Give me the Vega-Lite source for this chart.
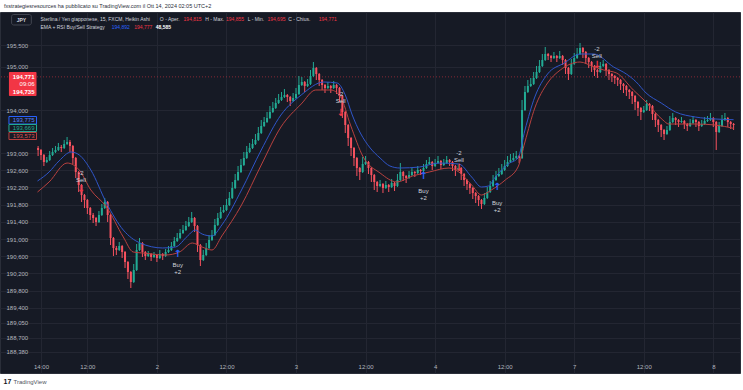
{
"$schema":"https://vega.github.io/schema/vega-lite/v6.json",
"width":740,"height":361,
"autosize":{"type":"none"},
"padding":{"left":0,"top":12,"right":3,"bottom":17},
"background":"#ffffff",
"title":{"text":"fxstrategiesresources ha pubblicato su TradingView.com il Ott 14, 2024 02:05 UTC+2","anchor":"start","frame":"group","fontSize":5.5,"fontWeight":"normal","color":"#2a2e39","dx":4,"offset":3,"font":"Liberation Sans"},
"config":{"view":{"fill":"#161a25","stroke":"#2a2e39"},"font":"Liberation Sans","text":{"font":"Liberation Sans"},"axis":{"labelOverlap":false,"labelFlush":false}},
"data":{"values":[{}]},
"datasets":{
"c":[
{"t":3.5,"o":193.116,"h":193.163,"l":192.93,"c":193.07},
{"t":4,"o":193.07,"h":193.093,"l":192.837,"c":192.954},
{"t":4.5,"o":192.954,"h":192.977,"l":192.698,"c":192.791},
{"t":5,"o":192.791,"h":192.907,"l":192.767,"c":192.837},
{"t":5.5,"o":192.837,"h":193.047,"l":192.814,"c":192.954},
{"t":6,"o":192.954,"h":193.116,"l":192.93,"c":193.023},
{"t":6.5,"o":193.023,"h":193.163,"l":193,"c":193.07},
{"t":7,"o":193.07,"h":193.233,"l":193.047,"c":193.14},
{"t":7.5,"o":193.14,"h":193.186,"l":193.023,"c":193.116},
{"t":8,"o":193.116,"h":193.302,"l":193.093,"c":193.209},
{"t":8.5,"o":193.209,"h":193.372,"l":193.186,"c":193.256},
{"t":9,"o":193.256,"h":193.302,"l":193.023,"c":193.163},
{"t":9.5,"o":193.163,"h":193.186,"l":192.744,"c":192.884},
{"t":10,"o":192.884,"h":192.907,"l":192.419,"c":192.558},
{"t":10.5,"o":192.558,"h":192.581,"l":192.093,"c":192.256},
{"t":11,"o":192.256,"h":192.279,"l":191.86,"c":192.023},
{"t":11.5,"o":192.023,"h":192.047,"l":191.721,"c":191.907},
{"t":12,"o":191.907,"h":191.93,"l":191.581,"c":191.721},
{"t":12.5,"o":191.721,"h":191.744,"l":191.442,"c":191.558},
{"t":13,"o":191.558,"h":191.605,"l":191.372,"c":191.488},
{"t":13.5,"o":191.488,"h":191.512,"l":191.302,"c":191.395},
{"t":14,"o":191.395,"h":191.651,"l":191.372,"c":191.558},
{"t":14.5,"o":191.558,"h":191.814,"l":191.535,"c":191.721},
{"t":15,"o":191.721,"h":191.954,"l":191.698,"c":191.86},
{"t":15.5,"o":191.86,"h":191.884,"l":191.395,"c":191.558},
{"t":16,"o":191.558,"h":191.581,"l":190.86,"c":191.023},
{"t":16.5,"o":191.023,"h":191.047,"l":190.605,"c":190.791},
{"t":17,"o":190.791,"h":190.837,"l":190.628,"c":190.744},
{"t":17.5,"o":190.744,"h":190.93,"l":190.721,"c":190.837},
{"t":18,"o":190.837,"h":190.86,"l":190.558,"c":190.698},
{"t":18.5,"o":190.698,"h":190.721,"l":190.326,"c":190.465},
{"t":19,"o":190.465,"h":190.488,"l":190.07,"c":190.233},
{"t":19.5,"o":190.233,"h":190.256,"l":189.86,"c":190},
{"t":20,"o":190,"h":190.419,"l":189.977,"c":190.279},
{"t":20.5,"o":190.279,"h":190.884,"l":190.256,"c":190.744},
{"t":21,"o":190.744,"h":191.023,"l":190.721,"c":190.907},
{"t":21.5,"o":190.907,"h":190.93,"l":190.581,"c":190.698},
{"t":22,"o":190.698,"h":190.721,"l":190.512,"c":190.605},
{"t":22.5,"o":190.605,"h":190.721,"l":190.581,"c":190.651},
{"t":23,"o":190.651,"h":190.674,"l":190.488,"c":190.581},
{"t":23.5,"o":190.581,"h":190.698,"l":190.558,"c":190.628},
{"t":24,"o":190.628,"h":190.651,"l":190.465,"c":190.558},
{"t":24.5,"o":190.558,"h":190.744,"l":190.535,"c":190.651},
{"t":25,"o":190.651,"h":190.674,"l":190.512,"c":190.605},
{"t":25.5,"o":190.605,"h":190.767,"l":190.581,"c":190.698},
{"t":26,"o":190.698,"h":190.837,"l":190.674,"c":190.744},
{"t":26.5,"o":190.744,"h":190.93,"l":190.721,"c":190.837},
{"t":27,"o":190.837,"h":191.047,"l":190.814,"c":190.954},
{"t":27.5,"o":190.954,"h":191.14,"l":190.93,"c":191.023},
{"t":28,"o":191.023,"h":191.233,"l":191,"c":191.14},
{"t":28.5,"o":191.14,"h":191.326,"l":191.116,"c":191.209},
{"t":29,"o":191.209,"h":191.419,"l":191.186,"c":191.302},
{"t":29.5,"o":191.302,"h":191.512,"l":191.279,"c":191.395},
{"t":30,"o":191.395,"h":191.628,"l":191.372,"c":191.488},
{"t":30.5,"o":191.488,"h":191.512,"l":191.163,"c":191.302},
{"t":31,"o":191.302,"h":191.326,"l":190.698,"c":190.86},
{"t":31.5,"o":190.86,"h":190.884,"l":190.372,"c":190.512},
{"t":32,"o":190.512,"h":190.744,"l":190.488,"c":190.628},
{"t":32.5,"o":190.628,"h":190.907,"l":190.605,"c":190.791},
{"t":33,"o":190.791,"h":191.093,"l":190.767,"c":190.977},
{"t":33.5,"o":190.977,"h":191.209,"l":190.954,"c":191.093},
{"t":34,"o":191.093,"h":191.465,"l":191.07,"c":191.326},
{"t":34.5,"o":191.326,"h":191.605,"l":191.302,"c":191.488},
{"t":35,"o":191.488,"h":191.744,"l":191.465,"c":191.628},
{"t":35.5,"o":191.628,"h":191.791,"l":191.605,"c":191.674},
{"t":36,"o":191.674,"h":191.93,"l":191.651,"c":191.791},
{"t":36.5,"o":191.791,"h":192.093,"l":191.767,"c":191.954},
{"t":37,"o":191.954,"h":192.326,"l":191.93,"c":192.186},
{"t":37.5,"o":192.186,"h":192.512,"l":192.163,"c":192.372},
{"t":38,"o":192.372,"h":192.698,"l":192.349,"c":192.558},
{"t":38.5,"o":192.558,"h":192.86,"l":192.535,"c":192.721},
{"t":39,"o":192.721,"h":193.023,"l":192.698,"c":192.884},
{"t":39.5,"o":192.884,"h":193.163,"l":192.86,"c":193.023},
{"t":40,"o":193.023,"h":193.233,"l":193,"c":193.116},
{"t":40.5,"o":193.116,"h":193.326,"l":193.093,"c":193.209},
{"t":41,"o":193.209,"h":193.442,"l":193.186,"c":193.302},
{"t":41.5,"o":193.302,"h":193.605,"l":193.279,"c":193.465},
{"t":42,"o":193.465,"h":193.767,"l":193.442,"c":193.628},
{"t":42.5,"o":193.628,"h":193.837,"l":193.605,"c":193.721},
{"t":43,"o":193.721,"h":193.954,"l":193.698,"c":193.814},
{"t":43.5,"o":193.814,"h":194.093,"l":193.791,"c":193.954},
{"t":44,"o":193.954,"h":194.186,"l":193.93,"c":194.047},
{"t":44.5,"o":194.047,"h":194.279,"l":194.023,"c":194.163},
{"t":45,"o":194.163,"h":194.372,"l":194.14,"c":194.233},
{"t":45.5,"o":194.233,"h":194.419,"l":194.209,"c":194.302},
{"t":46,"o":194.302,"h":194.488,"l":194.279,"c":194.349},
{"t":46.5,"o":194.349,"h":194.372,"l":194.186,"c":194.302},
{"t":47,"o":194.302,"h":194.326,"l":194.093,"c":194.209},
{"t":47.5,"o":194.209,"h":194.395,"l":194.186,"c":194.279},
{"t":48,"o":194.279,"h":194.512,"l":194.256,"c":194.372},
{"t":48.5,"o":194.372,"h":194.791,"l":194.349,"c":194.581},
{"t":49,"o":194.581,"h":194.767,"l":194.558,"c":194.651},
{"t":49.5,"o":194.651,"h":194.674,"l":194.419,"c":194.558},
{"t":50,"o":194.558,"h":194.721,"l":194.535,"c":194.605},
{"t":50.5,"o":194.605,"h":194.93,"l":194.581,"c":194.791},
{"t":51,"o":194.791,"h":195.116,"l":194.767,"c":194.977},
{"t":51.5,"o":194.977,"h":195,"l":194.698,"c":194.837},
{"t":52,"o":194.837,"h":194.86,"l":194.558,"c":194.698},
{"t":52.5,"o":194.698,"h":194.721,"l":194.465,"c":194.581},
{"t":53,"o":194.581,"h":194.605,"l":194.395,"c":194.512},
{"t":53.5,"o":194.512,"h":194.651,"l":194.488,"c":194.558},
{"t":54,"o":194.558,"h":194.581,"l":194.395,"c":194.512},
{"t":54.5,"o":194.512,"h":194.674,"l":194.488,"c":194.581},
{"t":55,"o":194.581,"h":194.605,"l":194.372,"c":194.512},
{"t":55.5,"o":194.512,"h":194.535,"l":194.186,"c":194.326},
{"t":56,"o":194.326,"h":194.349,"l":193.814,"c":193.954},
{"t":56.5,"o":193.954,"h":193.977,"l":193.465,"c":193.651},
{"t":57,"o":193.651,"h":193.674,"l":193.163,"c":193.349},
{"t":57.5,"o":193.349,"h":193.372,"l":192.93,"c":193.116},
{"t":58,"o":193.116,"h":193.14,"l":192.698,"c":192.884},
{"t":58.5,"o":192.884,"h":192.907,"l":192.465,"c":192.651},
{"t":59,"o":192.651,"h":192.674,"l":192.372,"c":192.558},
{"t":59.5,"o":192.558,"h":192.907,"l":192.535,"c":192.744},
{"t":60,"o":192.744,"h":192.93,"l":192.721,"c":192.791},
{"t":60.5,"o":192.791,"h":192.814,"l":192.512,"c":192.651},
{"t":61,"o":192.651,"h":192.674,"l":192.326,"c":192.488},
{"t":61.5,"o":192.488,"h":192.512,"l":192.14,"c":192.326},
{"t":62,"o":192.326,"h":192.349,"l":192.093,"c":192.233},
{"t":62.5,"o":192.233,"h":192.372,"l":192.209,"c":192.279},
{"t":63,"o":192.279,"h":192.302,"l":192.07,"c":192.186},
{"t":63.5,"o":192.186,"h":192.349,"l":192.163,"c":192.256},
{"t":64,"o":192.256,"h":192.279,"l":192.093,"c":192.209},
{"t":64.5,"o":192.209,"h":192.395,"l":192.186,"c":192.302},
{"t":65,"o":192.302,"h":192.326,"l":192.116,"c":192.233},
{"t":65.5,"o":192.233,"h":192.512,"l":192.209,"c":192.372},
{"t":66,"o":192.372,"h":192.767,"l":192.349,"c":192.558},
{"t":66.5,"o":192.558,"h":192.581,"l":192.349,"c":192.465},
{"t":67,"o":192.465,"h":192.488,"l":192.302,"c":192.419},
{"t":67.5,"o":192.419,"h":192.581,"l":192.395,"c":192.488},
{"t":68,"o":192.488,"h":192.651,"l":192.465,"c":192.558},
{"t":68.5,"o":192.558,"h":192.581,"l":192.442,"c":192.535},
{"t":69,"o":192.535,"h":192.698,"l":192.512,"c":192.605},
{"t":69.5,"o":192.605,"h":192.628,"l":192.488,"c":192.581},
{"t":70,"o":192.581,"h":192.744,"l":192.558,"c":192.651},
{"t":70.5,"o":192.651,"h":192.837,"l":192.628,"c":192.744},
{"t":71,"o":192.744,"h":192.907,"l":192.721,"c":192.791},
{"t":71.5,"o":192.791,"h":192.814,"l":192.605,"c":192.698},
{"t":72,"o":192.698,"h":192.86,"l":192.674,"c":192.767},
{"t":72.5,"o":192.767,"h":192.93,"l":192.744,"c":192.814},
{"t":73,"o":192.814,"h":192.837,"l":192.628,"c":192.721},
{"t":73.5,"o":192.721,"h":192.86,"l":192.698,"c":192.767},
{"t":74,"o":192.767,"h":192.93,"l":192.744,"c":192.837},
{"t":74.5,"o":192.837,"h":192.86,"l":192.698,"c":192.791},
{"t":75,"o":192.791,"h":192.814,"l":192.581,"c":192.698},
{"t":75.5,"o":192.698,"h":192.721,"l":192.465,"c":192.605},
{"t":76,"o":192.605,"h":192.744,"l":192.581,"c":192.651},
{"t":76.5,"o":192.651,"h":192.674,"l":192.372,"c":192.512},
{"t":77,"o":192.512,"h":192.535,"l":192.233,"c":192.372},
{"t":77.5,"o":192.372,"h":192.395,"l":192.14,"c":192.279},
{"t":78,"o":192.279,"h":192.302,"l":192.047,"c":192.186},
{"t":78.5,"o":192.186,"h":192.209,"l":191.93,"c":192.07},
{"t":79,"o":192.07,"h":192.093,"l":191.837,"c":192},
{"t":79.5,"o":192,"h":192.023,"l":191.767,"c":191.907},
{"t":80,"o":191.907,"h":191.93,"l":191.698,"c":191.814},
{"t":80.5,"o":191.814,"h":192.07,"l":191.791,"c":191.954},
{"t":81,"o":191.954,"h":192.209,"l":191.93,"c":192.093},
{"t":81.5,"o":192.093,"h":192.349,"l":192.07,"c":192.233},
{"t":82,"o":192.233,"h":192.488,"l":192.209,"c":192.372},
{"t":82.5,"o":192.372,"h":192.581,"l":192.349,"c":192.465},
{"t":83,"o":192.465,"h":192.651,"l":192.442,"c":192.512},
{"t":83.5,"o":192.512,"h":192.744,"l":192.488,"c":192.605},
{"t":84,"o":192.605,"h":192.837,"l":192.581,"c":192.698},
{"t":84.5,"o":192.698,"h":192.93,"l":192.674,"c":192.791},
{"t":85,"o":192.791,"h":192.977,"l":192.767,"c":192.837},
{"t":85.5,"o":192.837,"h":193,"l":192.814,"c":192.884},
{"t":86,"o":192.884,"h":193.047,"l":192.86,"c":192.93},
{"t":86.5,"o":192.93,"h":192.954,"l":192.767,"c":192.884},
{"t":87,"o":192.884,"h":194.233,"l":192.86,"c":194},
{"t":87.5,"o":194,"h":194.558,"l":193.977,"c":194.419},
{"t":88,"o":194.419,"h":194.698,"l":194.395,"c":194.558},
{"t":88.5,"o":194.558,"h":194.744,"l":194.535,"c":194.605},
{"t":89,"o":194.605,"h":194.884,"l":194.581,"c":194.744},
{"t":89.5,"o":194.744,"h":195.023,"l":194.721,"c":194.884},
{"t":90,"o":194.884,"h":195.163,"l":194.86,"c":195.023},
{"t":90.5,"o":195.023,"h":195.302,"l":195,"c":195.163},
{"t":91,"o":195.163,"h":195.465,"l":195.14,"c":195.302},
{"t":91.5,"o":195.302,"h":195.326,"l":195.163,"c":195.256},
{"t":92,"o":195.256,"h":195.279,"l":195.116,"c":195.209},
{"t":92.5,"o":195.209,"h":195.349,"l":195.186,"c":195.256},
{"t":93,"o":195.256,"h":195.279,"l":195.116,"c":195.209},
{"t":93.5,"o":195.209,"h":195.372,"l":195.186,"c":195.256},
{"t":94,"o":195.256,"h":195.279,"l":195.047,"c":195.163},
{"t":94.5,"o":195.163,"h":195.186,"l":194.837,"c":194.977},
{"t":95,"o":194.977,"h":195,"l":194.698,"c":194.837},
{"t":95.5,"o":194.837,"h":195.186,"l":194.814,"c":195.07},
{"t":96,"o":195.07,"h":195.326,"l":195.047,"c":195.209},
{"t":96.5,"o":195.209,"h":195.442,"l":195.186,"c":195.302},
{"t":97,"o":195.302,"h":195.558,"l":195.279,"c":195.442},
{"t":97.5,"o":195.442,"h":195.465,"l":195.209,"c":195.349},
{"t":98,"o":195.349,"h":195.372,"l":195.07,"c":195.209},
{"t":98.5,"o":195.209,"h":195.233,"l":194.977,"c":195.116},
{"t":99,"o":195.116,"h":195.14,"l":194.884,"c":195.023},
{"t":99.5,"o":195.023,"h":195.047,"l":194.791,"c":194.93},
{"t":100,"o":194.93,"h":194.954,"l":194.744,"c":194.884},
{"t":100.5,"o":194.884,"h":195.116,"l":194.86,"c":195.023},
{"t":101,"o":195.023,"h":195.163,"l":195,"c":195.07},
{"t":101.5,"o":195.07,"h":195.093,"l":194.791,"c":194.93},
{"t":102,"o":194.93,"h":194.954,"l":194.698,"c":194.837},
{"t":102.5,"o":194.837,"h":194.86,"l":194.651,"c":194.791},
{"t":103,"o":194.791,"h":194.814,"l":194.605,"c":194.744},
{"t":103.5,"o":194.744,"h":194.767,"l":194.558,"c":194.698},
{"t":104,"o":194.698,"h":194.721,"l":194.465,"c":194.605},
{"t":104.5,"o":194.605,"h":194.628,"l":194.395,"c":194.558},
{"t":105,"o":194.558,"h":194.581,"l":194.326,"c":194.465},
{"t":105.5,"o":194.465,"h":194.488,"l":194.256,"c":194.419},
{"t":106,"o":194.419,"h":194.442,"l":194.14,"c":194.326},
{"t":106.5,"o":194.326,"h":194.349,"l":194,"c":194.186},
{"t":107,"o":194.186,"h":194.209,"l":193.86,"c":194.047},
{"t":107.5,"o":194.047,"h":194.07,"l":193.767,"c":193.954},
{"t":108,"o":193.954,"h":194.093,"l":193.93,"c":194},
{"t":108.5,"o":194,"h":194.233,"l":193.977,"c":194.14},
{"t":109,"o":194.14,"h":194.163,"l":193.977,"c":194.093},
{"t":109.5,"o":194.093,"h":194.116,"l":193.767,"c":193.907},
{"t":110,"o":193.907,"h":193.93,"l":193.605,"c":193.767},
{"t":110.5,"o":193.767,"h":193.791,"l":193.488,"c":193.651},
{"t":111,"o":193.651,"h":193.674,"l":193.372,"c":193.535},
{"t":111.5,"o":193.535,"h":193.558,"l":193.302,"c":193.442},
{"t":112,"o":193.442,"h":193.628,"l":193.419,"c":193.535},
{"t":112.5,"o":193.535,"h":193.86,"l":193.512,"c":193.721},
{"t":113,"o":193.721,"h":193.93,"l":193.698,"c":193.814},
{"t":113.5,"o":193.814,"h":193.837,"l":193.651,"c":193.767},
{"t":114,"o":193.767,"h":193.791,"l":193.605,"c":193.721},
{"t":114.5,"o":193.721,"h":193.837,"l":193.698,"c":193.744},
{"t":115,"o":193.744,"h":193.767,"l":193.558,"c":193.674},
{"t":115.5,"o":193.674,"h":193.698,"l":193.512,"c":193.628},
{"t":116,"o":193.628,"h":193.791,"l":193.605,"c":193.698},
{"t":116.5,"o":193.698,"h":193.86,"l":193.674,"c":193.767},
{"t":117,"o":193.767,"h":193.791,"l":193.605,"c":193.721},
{"t":117.5,"o":193.721,"h":193.744,"l":193.512,"c":193.628},
{"t":118,"o":193.628,"h":193.767,"l":193.605,"c":193.674},
{"t":118.5,"o":193.674,"h":193.837,"l":193.651,"c":193.744},
{"t":119,"o":193.744,"h":193.86,"l":193.721,"c":193.767},
{"t":119.5,"o":193.767,"h":193.93,"l":193.744,"c":193.814},
{"t":120,"o":193.814,"h":193.837,"l":193.605,"c":193.721},
{"t":120.5,"o":193.721,"h":193.744,"l":193.07,"c":193.488},
{"t":121,"o":193.488,"h":193.721,"l":193.465,"c":193.628},
{"t":121.5,"o":193.628,"h":193.884,"l":193.605,"c":193.767},
{"t":122,"o":193.767,"h":193.93,"l":193.744,"c":193.814},
{"t":122.5,"o":193.814,"h":193.837,"l":193.605,"c":193.721},
{"t":123,"o":193.721,"h":193.744,"l":193.558,"c":193.674},
{"t":123.5,"o":193.674,"h":193.698,"l":193.535,"c":193.651}
],
"eb":[{"t":3.4,"v":192.349},{"t":5.4,"v":192.558},{"t":7.1,"v":192.814},{"t":9.2,"v":193.023},{"t":10.6,"v":192.954},{"t":12.6,"v":192.605},{"t":15.3,"v":191.837},{"t":18.2,"v":191.209},{"t":21.1,"v":190.907},{"t":25,"v":190.791},{"t":27.2,"v":190.814},{"t":29.3,"v":191.07},{"t":30.6,"v":191.209},{"t":31.8,"v":191.116},{"t":33.5,"v":191.07},{"t":35.2,"v":191.326},{"t":38.6,"v":192.14},{"t":42,"v":193.07},{"t":45.4,"v":193.884},{"t":48.9,"v":194.349},{"t":52.8,"v":194.651},{"t":55.1,"v":194.628},{"t":56.5,"v":194.349},{"t":57.7,"v":193.884},{"t":59.1,"v":193.465},{"t":60.8,"v":193.116},{"t":62.5,"v":192.884},{"t":64.2,"v":192.698},{"t":65.9,"v":192.651},{"t":69.3,"v":192.674},{"t":72.7,"v":192.767},{"t":76.1,"v":192.744},{"t":78.3,"v":192.442},{"t":80,"v":192.209},{"t":81.2,"v":192.233},{"t":82.4,"v":192.442},{"t":84.6,"v":192.744},{"t":86.3,"v":192.884},{"t":87.5,"v":193.535},{"t":89.2,"v":194.302},{"t":91.4,"v":194.837},{"t":94.3,"v":195.093},{"t":97,"v":195.302},{"t":99.4,"v":195.302},{"t":102.8,"v":195},{"t":105,"v":194.837},{"t":106.7,"v":194.651},{"t":108.4,"v":194.395},{"t":111,"v":194.163},{"t":113.5,"v":193.954},{"t":116.9,"v":193.837},{"t":120.3,"v":193.791},{"t":123.5,"v":193.775}],
"er":[{"t":3.4,"v":192.093},{"t":5.4,"v":192.326},{"t":8.5,"v":192.767},{"t":10.6,"v":192.605},{"t":12.6,"v":192.14},{"t":15.3,"v":191.744},{"t":18.2,"v":191.047},{"t":19.9,"v":190.698},{"t":21.6,"v":190.674},{"t":25.5,"v":190.628},{"t":27.9,"v":190.698},{"t":30.1,"v":190.907},{"t":31.8,"v":190.814},{"t":33.5,"v":190.744},{"t":35.2,"v":191.07},{"t":38.6,"v":191.791},{"t":42,"v":192.721},{"t":45.4,"v":193.605},{"t":48.9,"v":194.14},{"t":51.4,"v":194.465},{"t":54,"v":194.465},{"t":55.7,"v":194.302},{"t":57.4,"v":193.651},{"t":59.6,"v":192.907},{"t":62.5,"v":192.535},{"t":65.4,"v":192.326},{"t":68.1,"v":192.465},{"t":71,"v":192.558},{"t":74.4,"v":192.651},{"t":76.1,"v":192.558},{"t":78.3,"v":192.256},{"t":80,"v":192.023},{"t":81.7,"v":192.14},{"t":84.1,"v":192.372},{"t":86.3,"v":192.674},{"t":87.5,"v":193.256},{"t":89.2,"v":194.047},{"t":91.4,"v":194.628},{"t":93.6,"v":194.93},{"t":97,"v":195.116},{"t":99.4,"v":195},{"t":101.1,"v":194.93},{"t":103.3,"v":194.86},{"t":106.2,"v":194.465},{"t":108.4,"v":194.186},{"t":111.3,"v":193.767},{"t":112.3,"v":193.674},{"t":116.9,"v":193.674},{"t":120.3,"v":193.651},{"t":123.5,"v":193.573}],
"sig":[
{"t":10.9,"lp":192.53,"ap":192.17,"lbl":"-2\nSell","d":"s"},
{"t":27.6,"lp":190.40,"ap":190.66,"lbl":"Buy\n+2","d":"b"},
{"t":55.7,"lp":194.38,"ap":193.94,"lbl":"-2\nSell","d":"s"},
{"t":70,"lp":192.11,"ap":192.475,"lbl":"Buy\n+2","d":"b"},
{"t":76.1,"lp":193.005,"ap":192.64,"lbl":"-2\nSell","d":"s"},
{"t":82.7,"lp":191.845,"ap":192.22,"lbl":"Buy\n+2","d":"b"},
{"t":99.9,"lp":195.42,"ap":195.035,"lbl":"-2\nSell","d":"s"}
]
},
"layer":[
{"mark":{"type":"rule","color":"#f23645","opacity":0.5,"strokeDash":[1,2],"strokeWidth":1},
 "encoding":{"y":{"datum":194.771,"type":"quantitative","scale":{"domain":[187.884,196.279],"nice":false,"zero":false},
   "axis":{"values":[195.5,195,194,193,192.6,192.2,191.8,191.4,191,190.6,190.2,189.8,189.4,189.05,188.7,188.38],"tickCount":40,"labelExpr":"replace(format(datum.value,'.3f'),'.',',')","grid":true,"gridColor":"#232632","gridWidth":1,"ticks":false,"domain":false,"labelAlign":"left","labelPadding":-6,"labelBaseline":"middle","labelFontSize":6,"labelColor":"#b2b5be","labelFlush":false,"labelOverlap":false,"title":"17","titleX":3,"titleY":369,"titleAngle":0,"titleAlign":"left","titleBaseline":"middle","titleFontSize":7,"titleFontWeight":"bold","titleColor":"#131722"}}}},
{"data":{"name":"c"},
 "mark":{"type":"rule","strokeWidth":1},
 "encoding":{
  "x":{"field":"t","type":"quantitative","scale":{"domain":[-2.21,123.74],"nice":false,"zero":false},
   "axis":{"values":[4,12,24,36,48,60,72,84,96,108,120],"tickCount":40,"labelExpr":"datum.value == 4 ? '14:00' : datum.value == 24 ? '2' : datum.value == 48 ? '3' : datum.value == 72 ? '4' : datum.value == 96 ? '7' : datum.value == 120 ? '8' : '12:00'","grid":true,"gridColor":"#232632","gridWidth":1,"ticks":false,"domain":false,"labelPadding":-7,"labelBaseline":"middle","labelFontSize":6,"labelColor":"#b2b5be","labelFlush":false,"labelOverlap":false,"title":"TradingView","titleX":13,"titleY":8,"titleAlign":"left","titleBaseline":"middle","titleFontSize":6,"titleFontWeight":"normal","titleColor":"#50535e"}},
  "y":{"field":"l","type":"quantitative"},
  "y2":{"field":"h"},
  "color":{"condition":{"test":"datum.c >= datum.o","value":"#22ab94"},"value":"#f7525f"}}},
{"data":{"name":"c"},
 "mark":{"type":"bar","size":2},
 "encoding":{
  "x":{"field":"t","type":"quantitative"},
  "y":{"field":"o","type":"quantitative"},
  "y2":{"field":"c"},
  "color":{"condition":{"test":"datum.c >= datum.o","value":"#22ab94"},"value":"#f7525f"}}},
{"data":{"name":"eb"},
 "mark":{"type":"line","color":"#2f55c8","strokeWidth":1,"interpolate":"monotone"},
 "encoding":{"x":{"field":"t","type":"quantitative"},"y":{"field":"v","type":"quantitative"}}},
{"data":{"name":"er"},
 "mark":{"type":"line","color":"#b8413f","strokeWidth":1,"interpolate":"monotone"},
 "encoding":{"x":{"field":"t","type":"quantitative"},"y":{"field":"v","type":"quantitative"}}},
{"data":{"name":"sig"},
 "mark":{"type":"text","fontSize":6,"lineBreak":"\n","lineHeight":7,"color":"#d1d4dc","baseline":"middle","align":"center"},
 "encoding":{"x":{"field":"t","type":"quantitative"},"y":{"field":"lp","type":"quantitative"},"text":{"field":"lbl"}}},
{"data":{"name":"sig"},
 "transform":[{"filter":"datum.d == 's'"}],
 "mark":{"type":"text","text":"↓","fontSize":10,"fontWeight":"bold","color":"#f23645","baseline":"middle","align":"center","font":"DejaVu Sans"},
 "encoding":{"x":{"field":"t","type":"quantitative"},"y":{"field":"ap","type":"quantitative"}}},
{"data":{"name":"sig"},
 "transform":[{"filter":"datum.d == 'b'"}],
 "mark":{"type":"text","text":"↑","fontSize":10,"fontWeight":"bold","color":"#2962ff","baseline":"middle","align":"center","font":"DejaVu Sans"},
 "encoding":{"x":{"field":"t","type":"quantitative"},"y":{"field":"ap","type":"quantitative"}}},
{"mark":{"type":"rect","fill":"#161a25","stroke":"#434651","strokeWidth":1,"cornerRadius":2},
 "encoding":{"x":{"datum":-1.07,"type":"quantitative"},"x2":{"datum":2.33},"y":{"datum":196.221,"type":"quantitative"},"y2":{"datum":195.977}}},
{"mark":{"type":"text","text":"JPY","fontSize":5,"fontWeight":"bold","color":"#d1d4dc","align":"center","baseline":"middle"},
 "encoding":{"x":{"datum":0.63,"type":"quantitative"},"y":{"datum":196.1,"type":"quantitative"}}},
{"mark":{"type":"text","text":"Sterlina / Yen giapponese, 15, FXCM, Heikin Ashi","fontSize":5,"color":"#d1d4dc","align":"left","baseline":"middle"},
 "encoding":{"x":{"datum":3.91,"type":"quantitative"},"y":{"datum":196.116,"type":"quantitative"}}},
{"mark":{"type":"text","text":"O - Aper.","fontSize":5,"color":"#d1d4dc","align":"left","baseline":"middle"},
 "encoding":{"x":{"datum":24.51,"type":"quantitative"},"y":{"datum":196.116,"type":"quantitative"}}},
{"mark":{"type":"text","text":"194,815","fontSize":5,"color":"#f23645","align":"left","baseline":"middle"},
 "encoding":{"x":{"datum":28.6,"type":"quantitative"},"y":{"datum":196.116,"type":"quantitative"}}},
{"mark":{"type":"text","text":"H - Max.","fontSize":5,"color":"#d1d4dc","align":"left","baseline":"middle"},
 "encoding":{"x":{"datum":32.34,"type":"quantitative"},"y":{"datum":196.116,"type":"quantitative"}}},
{"mark":{"type":"text","text":"194,855","fontSize":5,"color":"#f23645","align":"left","baseline":"middle"},
 "encoding":{"x":{"datum":35.91,"type":"quantitative"},"y":{"datum":196.116,"type":"quantitative"}}},
{"mark":{"type":"text","text":"L - Min.","fontSize":5,"color":"#d1d4dc","align":"left","baseline":"middle"},
 "encoding":{"x":{"datum":39.66,"type":"quantitative"},"y":{"datum":196.116,"type":"quantitative"}}},
{"mark":{"type":"text","text":"194,695","fontSize":5,"color":"#f23645","align":"left","baseline":"middle"},
 "encoding":{"x":{"datum":43.06,"type":"quantitative"},"y":{"datum":196.116,"type":"quantitative"}}},
{"mark":{"type":"text","text":"C - Chius.","fontSize":5,"color":"#d1d4dc","align":"left","baseline":"middle"},
 "encoding":{"x":{"datum":46.64,"type":"quantitative"},"y":{"datum":196.116,"type":"quantitative"}}},
{"mark":{"type":"text","text":"194,771","fontSize":5,"color":"#f23645","align":"left","baseline":"middle"},
 "encoding":{"x":{"datum":51.91,"type":"quantitative"},"y":{"datum":196.116,"type":"quantitative"}}},
{"mark":{"type":"text","text":"EMA + RSI Buy/Sell Strategy","fontSize":5,"color":"#d1d4dc","align":"left","baseline":"middle"},
 "encoding":{"x":{"datum":3.91,"type":"quantitative"},"y":{"datum":195.93,"type":"quantitative"}}},
{"mark":{"type":"text","text":"194,892","fontSize":5,"color":"#2962ff","align":"left","baseline":"middle"},
 "encoding":{"x":{"datum":16.2,"type":"quantitative"},"y":{"datum":195.93,"type":"quantitative"}}},
{"mark":{"type":"text","text":"194,777","fontSize":5,"color":"#f23645","align":"left","baseline":"middle"},
 "encoding":{"x":{"datum":20.1,"type":"quantitative"},"y":{"datum":195.93,"type":"quantitative"}}},
{"mark":{"type":"text","text":"48,585","fontSize":5,"color":"#ffffff","fontWeight":"bold","align":"left","baseline":"middle"},
 "encoding":{"x":{"datum":23.8,"type":"quantitative"},"y":{"datum":195.93,"type":"quantitative"}}},
{"mark":{"type":"rect","fill":"#f23645","cornerRadius":1},
 "encoding":{"x":{"datum":-1.53,"type":"quantitative"},"x2":{"datum":3.23},"y":{"datum":194.884,"type":"quantitative"},"y2":{"datum":194.326}}},
{"mark":{"type":"text","text":"194,771","fontSize":6,"fontWeight":"bold","color":"#ffffff","align":"right","baseline":"middle"},
 "encoding":{"x":{"datum":2.89,"type":"quantitative"},"y":{"datum":194.779,"type":"quantitative"}}},
{"mark":{"type":"text","text":"09:06","fontSize":6,"color":"#ffffff","align":"right","baseline":"middle"},
 "encoding":{"x":{"datum":2.89,"type":"quantitative"},"y":{"datum":194.605,"type":"quantitative"}}},
{"mark":{"type":"text","text":"194,735","fontSize":6,"fontWeight":"bold","color":"#ffffff","align":"right","baseline":"middle"},
 "encoding":{"x":{"datum":2.89,"type":"quantitative"},"y":{"datum":194.43,"type":"quantitative"}}},
{"mark":{"type":"rect","fill":"#161a25","stroke":"#2962ff","strokeWidth":1},
 "encoding":{"x":{"datum":-1.53,"type":"quantitative"},"x2":{"datum":3.23},"y":{"datum":193.849,"type":"quantitative"},"y2":{"datum":193.674}}},
{"mark":{"type":"text","text":"193,775","fontSize":6,"color":"#5b84ff","align":"right","baseline":"middle"},
 "encoding":{"x":{"datum":2.89,"type":"quantitative"},"y":{"datum":193.76,"type":"quantitative"}}},
{"mark":{"type":"rect","fill":"#161a25","stroke":"#22ab94","strokeWidth":1},
 "encoding":{"x":{"datum":-1.53,"type":"quantitative"},"x2":{"datum":3.23},"y":{"datum":193.663,"type":"quantitative"},"y2":{"datum":193.5}}},
{"mark":{"type":"text","text":"193,669","fontSize":6,"color":"#22ab94","align":"right","baseline":"middle"},
 "encoding":{"x":{"datum":2.89,"type":"quantitative"},"y":{"datum":193.581,"type":"quantitative"}}},
{"mark":{"type":"rect","fill":"#161a25","stroke":"#b8413f","strokeWidth":1},
 "encoding":{"x":{"datum":-1.53,"type":"quantitative"},"x2":{"datum":3.23},"y":{"datum":193.477,"type":"quantitative"},"y2":{"datum":193.314}}},
{"mark":{"type":"text","text":"193,573","fontSize":6,"color":"#d9534f","align":"right","baseline":"middle"},
 "encoding":{"x":{"datum":2.89,"type":"quantitative"},"y":{"datum":193.395,"type":"quantitative"}}}
]
}
